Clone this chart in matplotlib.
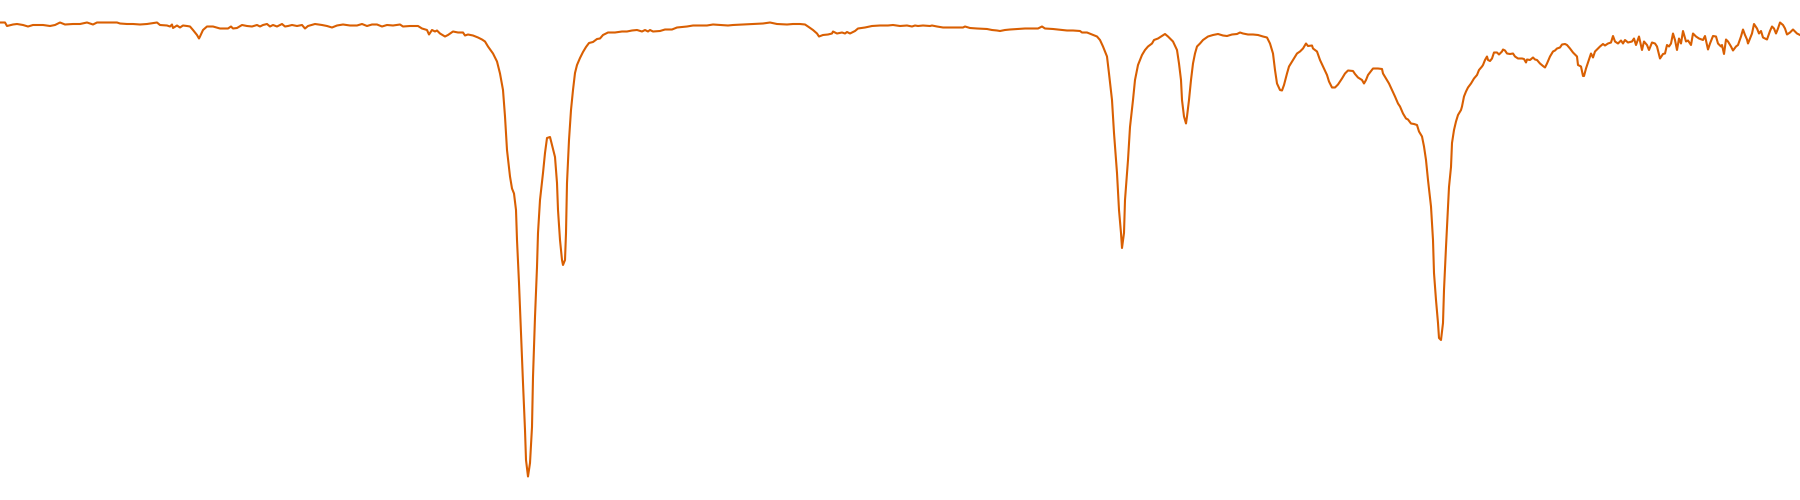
import numpy as np
import matplotlib
matplotlib.use("Agg")
import matplotlib.pyplot as plt

# IR spectrum, wavenumber (cm-1) vs transmittance (%)
wn_4000 = [4000, 3990, 3986, 3974, 3966, 3954, 3944, 3934, 3920, 3914, 3900, 3890, 3880, 3870,
           3854, 3840, 3826, 3814, 3806, 3800, 3766, 3760, 3746, 3734, 3720, 3706, 3686, 3680,
           3666, 3660, 3656, 3654, 3646, 3640, 3634, 3626, 3620, 3614, 3606, 3602]
t_4000 = [95.5, 95.5, 94.8, 95.1, 95.2, 95.0, 94.7, 95.0, 95.0, 95.0, 94.8, 95.0, 95.5, 95.1,
          95.2, 95.2, 95.5, 95.1, 95.5, 95.5, 95.5, 95.3, 95.2, 95.2, 95.1, 95.2, 95.5, 95.0,
          94.9, 94.7, 95.1, 94.4, 94.9, 94.5, 94.9, 94.8, 94.7, 94.0, 93.0, 92.3]

wn_3600 = [3600, 3594, 3586, 3574, 3560, 3544, 3538, 3534, 3526, 3516, 3506, 3496, 3486, 3480,
           3474, 3466, 3460, 3454, 3446, 3436, 3430, 3424, 3416, 3406, 3396, 3390, 3384, 3370,
           3356, 3346, 3336, 3326, 3314, 3300, 3286, 3276, 3266, 3256, 3246, 3236, 3226, 3214, 3200]
t_3600 = [92.7, 94.0, 94.7, 94.7, 94.3, 94.3, 94.7, 94.3, 94.4, 95.0, 94.8, 94.7, 95.0, 94.7,
          95.0, 95.2, 94.7, 95.0, 94.7, 95.2, 94.7, 94.8, 95.0, 94.8, 95.0, 94.3, 94.8, 95.2,
          95.0, 94.8, 94.5, 94.9, 95.1, 94.9, 94.9, 95.2, 94.8, 95.1, 95.1, 94.7, 95.0, 94.9, 95.1]

# C-H stretch region
wn_ch = [3194, 3180, 3164, 3156, 3146, 3142, 3136, 3130, 3126, 3120, 3110, 3104, 3094, 3084,
         3074, 3070, 3064, 3054, 3044, 3036, 3030, 3024, 3014, 3006, 3000, 2994, 2990, 2986,
         2980, 2976, 2972, 2968, 2966, 2962, 2958, 2954, 2950, 2948, 2944, 2940, 2936, 2934,
         2930, 2926, 2924, 2920, 2914, 2910, 2906, 2900, 2896, 2890, 2886, 2884, 2880, 2876,
         2874, 2870, 2868, 2866, 2862, 2858, 2854, 2850, 2846, 2840, 2834, 2828, 2822, 2814, 2806]
t_ch = [94.7, 94.8, 94.8, 94.3, 94.0, 93.1, 94.0, 93.7, 93.9, 93.3, 92.7, 93.0, 93.7, 93.5,
        93.5, 92.9, 93.1, 92.9, 92.5, 92.1, 91.7, 90.7, 89.3, 87.7, 85.3, 82.0, 76.7, 70.0,
        64.7, 62.3, 61.3, 58.0, 52.0, 43.4, 33.4, 23.4, 14.0, 8.0, 4.7, 7.4, 14.6, 24.6,
        36.6, 46.6, 53.4, 60.0, 65.4, 69.4, 72.4, 72.6, 71.0, 68.6, 63.4, 58.0, 52.0, 48.0,
        47.0, 48.0, 53.4, 63.4, 72.0, 78.0, 82.0, 85.4, 87.0, 88.4, 89.6, 90.6, 91.4, 91.6, 92.2]

wn_2800 = [2800, 2794, 2784, 2770, 2756, 2746, 2736, 2726, 2716, 2710, 2704, 2700, 2694, 2680,
           2670, 2656, 2646, 2626, 2614, 2600, 2586, 2574, 2560, 2544, 2534, 2514, 2494, 2474,
           2460, 2446, 2426, 2414]
t_2800 = [92.3, 93.0, 93.5, 93.5, 93.7, 93.7, 93.9, 94.0, 93.7, 94.0, 93.7, 94.0, 93.7, 93.8,
          94.1, 94.1, 94.5, 94.7, 94.9, 94.9, 94.9, 95.1, 95.0, 94.9, 95.0, 95.1, 95.2, 95.3,
          95.5, 95.2, 95.1, 95.2]

wn_2400 = [2400, 2390, 2384, 2374, 2366, 2362, 2354, 2344, 2336, 2334, 2326, 2316, 2310, 2306,
           2300, 2290, 2284, 2270, 2256, 2240, 2224, 2214, 2200, 2186, 2176, 2170, 2164, 2154,
           2140, 2136, 2126, 2114, 2094, 2074, 2070, 2060, 2046, 2026, 2016, 2006]
t_2400 = [95.2, 95.1, 94.7, 94.0, 93.3, 92.7, 93.0, 93.1, 93.3, 93.7, 93.3, 93.5, 93.3, 93.6,
          93.3, 93.8, 94.3, 94.5, 94.8, 94.9, 94.9, 95.0, 94.8, 94.9, 94.7, 94.9, 94.8, 94.9,
          94.8, 94.9, 94.7, 94.5, 94.5, 94.5, 94.7, 94.4, 94.3, 94.2, 94.0, 93.9]

# carbonyl region
wn_co = [2000, 1990, 1980, 1966, 1950, 1934, 1924, 1916, 1910, 1894, 1876, 1866, 1854, 1840,
         1836, 1826, 1816, 1806, 1800, 1794, 1786, 1782, 1776, 1772, 1766, 1762, 1758, 1756,
         1752, 1750, 1744, 1740, 1734, 1730, 1724, 1716, 1710, 1704, 1696, 1692, 1684, 1676,
         1670, 1664, 1654, 1646, 1642, 1638, 1636, 1632, 1628, 1626, 1622, 1618, 1614, 1610, 1606]
t_co = [93.8, 94.0, 94.1, 94.2, 94.3, 94.3, 94.3, 94.7, 94.3, 94.2, 94.0, 93.9, 93.9, 93.8,
        93.5, 93.5, 93.1, 92.7, 92.0, 90.7, 88.7, 85.3, 80.0, 73.4, 65.4, 58.0, 53.4, 50.4,
        53.4, 60.0, 68.0, 74.6, 80.0, 84.0, 87.0, 89.0, 90.0, 90.7, 91.3, 92.0, 92.3, 92.8,
        93.2, 92.7, 91.7, 90.0, 87.3, 84.0, 80.0, 76.7, 75.3, 76.7, 80.0, 84.0, 87.3, 89.3, 90.7]

wn_1600 = [1600, 1594, 1584, 1574, 1564, 1554, 1546, 1536, 1526, 1520, 1514, 1504, 1494, 1484,
           1474, 1466, 1460, 1454, 1450, 1446, 1440, 1436, 1432, 1426, 1422, 1414, 1406, 1400,
           1394, 1388, 1384, 1376, 1374, 1366, 1360, 1354, 1346, 1342, 1336, 1330, 1324, 1316,
           1310, 1304, 1294, 1290, 1284, 1276, 1272, 1268, 1264, 1258, 1254, 1244, 1236, 1234,
           1228, 1222, 1216, 1210, 1204]
t_1600 = [91.3, 92.0, 92.7, 93.0, 93.2, 92.9, 92.8, 93.1, 93.2, 93.5, 93.3, 93.1, 93.1, 93.0,
          92.7, 92.5, 91.3, 89.3, 86.0, 83.3, 82.0, 81.9, 83.0, 85.3, 86.7, 88.0, 89.3, 89.7,
          90.3, 91.3, 90.8, 90.9, 90.3, 89.7, 88.0, 86.7, 85.0, 83.7, 82.5, 82.5, 83.1, 84.3,
          85.3, 85.9, 85.8, 85.2, 84.5, 84.0, 83.3, 84.0, 85.0, 85.8, 86.3, 86.3, 86.2, 85.3,
          84.3, 83.3, 82.0, 80.7, 79.3]

# C-O stretch and fingerprint
wn_1200 = [1200, 1194, 1188, 1184, 1178, 1172, 1166, 1162, 1156, 1152, 1148, 1144, 1138, 1134,
           1132, 1128, 1124, 1122, 1118, 1114, 1112, 1108, 1104, 1102, 1098, 1096, 1092, 1088,
           1084, 1078, 1076, 1072, 1068, 1064, 1058, 1052, 1046, 1042, 1036, 1034, 1030, 1026,
           1024, 1020, 1016, 1012, 1006, 1002, 996, 994, 990, 986, 980, 974, 970, 964,
           956, 952, 948, 946, 940, 934, 930, 926, 920, 914, 910, 906, 900, 894,
           890, 886, 880, 876, 870, 866, 860, 854, 846, 844, 838, 834, 832, 828,
           824, 818, 814, 810, 806]
t_1200 = [78.7, 77.3, 76.3, 76.1, 75.3, 75.2, 75.0, 73.7, 72.7, 70.7, 68.0, 64.0, 58.7, 52.0,
          45.4, 40.0, 35.4, 32.4, 32.0, 35.4, 42.0, 50.6, 58.6, 62.6, 66.6, 71.4, 74.0, 75.7,
          77.0, 78.0, 78.7, 80.7, 81.7, 82.5, 83.3, 84.3, 85.0, 86.0, 86.7, 87.0, 88.0, 88.7,
          88.0, 87.8, 88.3, 89.5, 89.5, 89.1, 89.7, 90.1, 89.9, 89.3, 89.2, 89.3, 88.7, 88.3,
          88.3, 88.2, 87.5, 88.1, 88.0, 88.5, 88.1, 88.0, 87.3, 86.8, 86.5, 87.3, 88.7, 89.7,
          89.9, 90.3, 90.5, 91.1, 91.2, 91.0, 90.3, 89.5, 88.7, 87.0, 86.7, 84.8, 84.8, 86.3,
          87.5, 89.3, 88.5, 89.7, 90.1]

wn_800 = [800, 794, 790, 784, 778, 774, 770, 764, 758, 754, 750, 744, 736, 732,
          728, 722, 716, 712, 706, 702, 696, 690, 686, 680, 674, 670, 666, 662,
          658, 654, 650, 646, 642, 638, 634, 628, 624, 618, 614, 608, 602, 594,
          590, 584, 580, 574, 568, 564, 558, 556, 552, 548, 544, 538, 534, 528,
          524, 518, 514, 510, 506, 504, 496, 492, 486, 482, 478, 474, 470, 466,
          460, 456, 452, 448, 444, 440, 434, 430, 426, 420, 414, 406, 400]
t_800 = [90.7, 91.2, 90.9, 91.3, 91.5, 92.8, 91.7, 91.3, 91.9, 91.3, 92.0, 91.5, 91.7, 92.3,
         91.0, 92.7, 90.0, 91.7, 91.0, 90.0, 91.5, 91.3, 90.7, 88.3, 89.2, 89.3, 91.0, 90.7,
         91.3, 93.3, 92.0, 90.0, 92.3, 91.3, 93.8, 91.7, 91.9, 91.0, 93.3, 92.7, 92.3, 92.0,
         92.8, 90.1, 91.3, 92.8, 92.7, 91.3, 90.7, 91.0, 89.2, 92.1, 91.7, 90.7, 89.9, 90.7,
         91.0, 92.7, 94.1, 93.0, 92.1, 91.3, 93.3, 95.2, 94.3, 93.3, 93.8, 92.5, 92.3, 92.1,
         93.8, 94.7, 94.3, 93.3, 94.3, 95.5, 95.0, 94.3, 93.1, 93.5, 94.1, 93.3, 93.0]

wavenumber = np.concatenate([wn_4000, wn_3600, wn_ch, wn_2800, wn_2400, wn_co, wn_1600, wn_1200, wn_800])
transmittance = np.concatenate([t_4000, t_3600, t_ch, t_2800, t_2400, t_co, t_1600, t_1200, t_800])

fig = plt.figure(figsize=(18, 5), dpi=100)
ax = fig.add_axes([0, 0, 1, 1])
ax.plot(wavenumber, transmittance, color='#d95f02', linewidth=1.5)
ax.set_xlim(4000, 400)
ax.set_ylim(0, 100)
ax.axis('off')

fig.savefig('out.png', dpi=100)
